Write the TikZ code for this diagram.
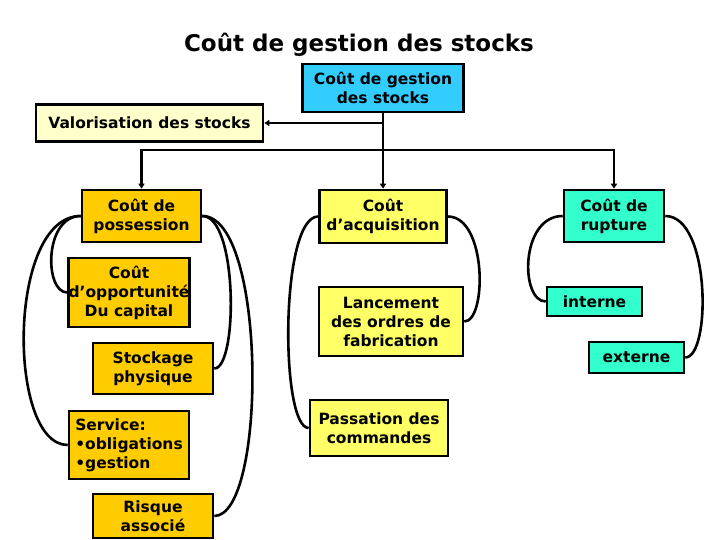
\documentclass[tikz,border=0pt]{standalone}
\usepackage{fontspec}
\setmainfont{DejaVu Sans}
\usetikzlibrary{arrows.meta}
\definecolor{cblue}{HTML}{33CCFF}
\definecolor{cpale}{HTML}{FFFFCC}
\definecolor{corange}{HTML}{FFCC00}
\definecolor{cyell}{HTML}{FFFF66}
\definecolor{cteal}{HTML}{33FFCC}
\tikzset{
  box/.style={draw=black, line width=2.6pt, inner sep=0pt, align=center,
    font=\fontsize{15.5}{19}\selectfont\bfseries},
  arr/.style={line width=2.6pt, -{Triangle[length=5pt,width=6pt]}},
  arrboth/.style={line width=2.6pt, {Triangle[length=5pt,width=6pt]}-{Triangle[length=5pt,width=6pt]}},
  curv/.style={line width=2.6pt},
}
\begin{document}
\begin{tikzpicture}[x=1pt,y=-1pt]
\useasboundingbox (0,0) rectangle (720,540);
\node[font=\fontsize{23}{27}\selectfont\bfseries] (title) at (359,45) {Coût de gestion des stocks};

\node[box, fill=cblue, minimum width=161pt, minimum height=48pt] (top) at (383,88) {Coût de gestion\\des stocks};
\node[box, fill=cpale, minimum width=227pt, minimum height=37pt] (valo) at (149.5,123) {Valorisation des stocks};

\node[box, fill=corange, minimum width=119pt, minimum height=52pt] (poss) at (141.5,216) {Coût de\\possession};
\node[box, fill=corange, minimum width=120pt, minimum height=69pt] (opp) at (129,292.5) {Coût\\d’opportunité\\Du capital};
\node[box, fill=corange, minimum width=120pt, minimum height=51pt] (stock) at (153,368.5) {Stockage\\physique};
\node[box, fill=corange, minimum width=120pt, minimum height=68pt, align=left] (serv) at (129,445) {Service:\\•obligations\\•gestion};
\node[box, fill=corange, minimum width=120pt, minimum height=44pt] (risk) at (153,516) {Risque\\associé};

\node[box, fill=cyell, minimum width=127pt, minimum height=53pt] (acq) at (383,216.5) {Coût\\d’acquisition};
\node[box, fill=cyell, minimum width=144pt, minimum height=69pt] (lanc) at (391,321.5) {Lancement\\des ordres de\\fabrication};
\node[box, fill=cyell, minimum width=138pt, minimum height=56pt] (pass) at (379,428) {Passation des\\commandes};

\node[box, fill=cteal, minimum width=100pt, minimum height=52pt] (rupt) at (614,216) {Coût de\\rupture};
\node[box, fill=cteal, minimum width=95pt, minimum height=29pt] (int) at (594.5,301.5) {interne};
\node[box, fill=cteal, minimum width=95pt, minimum height=31pt] (ext) at (636.5,357.5) {externe};

\coordinate (j1) at (383,123);
\coordinate (j2) at (383,150);
\draw[arr] (top.south) -- (acq.north);
\draw[arr] (j1) -- (valo.east);
\draw[arrboth] (poss.north) |- (j2) -| (rupt.north);

\draw[curv] (poss.west) .. controls (44,216) and (44,292.5) .. (opp.west);
\draw[curv] (poss.west) .. controls (7,216) and (7,445) .. (serv.west);
\draw[curv] (poss.east) .. controls (238,216) and (238,368.5) .. (stock.east);
\draw[curv] (poss.east) .. controls (267,216) and (267,516) .. (risk.east);

\draw[curv] (acq.west) .. controls (280,216.5) and (280,428) .. (pass.west);
\draw[curv] (acq.east) .. controls (487,216.5) and (487,321.5) .. (lanc.east);

\draw[curv] (rupt.west) .. controls (520,216) and (520,301.5) .. (int.west);
\draw[curv] (rupt.east) .. controls (711,216) and (711,357.5) .. (ext.east);
\end{tikzpicture}
\end{document}
